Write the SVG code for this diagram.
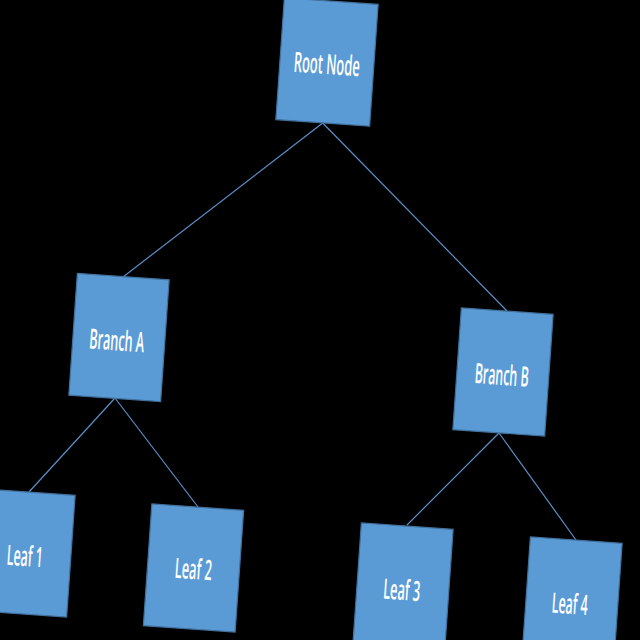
<svg xmlns="http://www.w3.org/2000/svg" width="640" height="640" viewBox="0 0 640 640">
<style>
.box{fill:#5b9bd5;stroke:#41719c;stroke-width:1.2}
.lbl{fill:#ffffff;font-family:"Open Sans","Liberation Sans",sans-serif;font-weight:600;font-size:28px;text-anchor:middle;dominant-baseline:central}
.edge{stroke:#5b8fc9;stroke-width:1.2;fill:none}
</style>
<rect x="0" y="0" width="640" height="640" fill="#000000"/>
<g id="connectors">
<line class="edge" x1="322.7" y1="123" x2="123" y2="277"/>
<line class="edge" x1="322.7" y1="123" x2="507" y2="311"/>
<line class="edge" x1="115" y1="398" x2="29" y2="492"/>
<line class="edge" x1="115" y1="398" x2="198" y2="507"/>
<line class="edge" x1="499" y1="433" x2="407" y2="525"/>
<line class="edge" x1="499" y1="433" x2="576" y2="540"/>
</g>
<g id="root" transform="translate(327,62) rotate(4)">
<rect class="box" x="-47" y="-61" width="94" height="122"/>
<text class="lbl" x="0" y="1" textLength="66" lengthAdjust="spacingAndGlyphs">Root Node</text>
</g>
<g id="branchA" transform="translate(119,337.5) rotate(4)">
<rect class="box" x="-46" y="-61" width="92" height="122"/>
<text class="lbl" x="-2" y="2" textLength="55" lengthAdjust="spacingAndGlyphs">Branch A</text>
</g>
<g id="branchB" transform="translate(503,372) rotate(4)">
<rect class="box" x="-46" y="-61" width="92" height="122"/>
<text class="lbl" x="-1" y="2" textLength="54" lengthAdjust="spacingAndGlyphs">Branch B</text>
</g>
<g id="leaf1" transform="translate(25,553) rotate(4)">
<rect class="box" x="-46" y="-61" width="92" height="122"/>
<text class="lbl" x="0" y="2" textLength="36" lengthAdjust="spacingAndGlyphs">Leaf 1</text>
</g>
<g id="leaf2" transform="translate(193.5,568) rotate(4)">
<rect class="box" x="-46" y="-61" width="92" height="122"/>
<text class="lbl" x="0" y="0" textLength="37" lengthAdjust="spacingAndGlyphs">Leaf 2</text>
</g>
<g id="leaf3" transform="translate(403,587) rotate(4)">
<rect class="box" x="-46" y="-61" width="92" height="122"/>
<text class="lbl" x="-1" y="2" textLength="37" lengthAdjust="spacingAndGlyphs">Leaf 3</text>
</g>
<g id="leaf4" transform="translate(572,601) rotate(4)">
<rect class="box" x="-46" y="-61" width="92" height="122"/>
<text class="lbl" x="-2" y="2" textLength="36" lengthAdjust="spacingAndGlyphs">Leaf 4</text>
</g>
</svg>
